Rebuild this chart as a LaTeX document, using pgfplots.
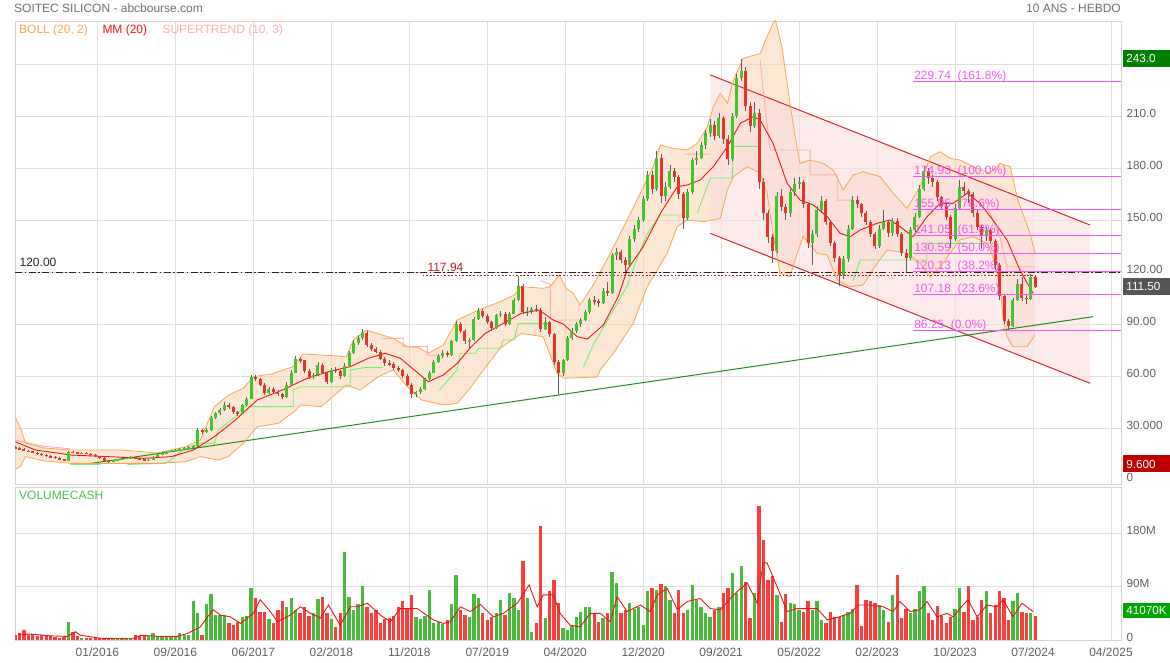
\documentclass[border=0pt]{standalone}
\usepackage{pgfplots}
\pgfplotsset{compat=1.18}
\usepackage{pgfplotstable}
\usepgfplotslibrary{fillbetween}
\usepackage{fontspec}
\setmainfont{Liberation Sans}
\definecolor{gridc}{RGB}{222,222,222}
\definecolor{framec}{RGB}{212,212,212}
\definecolor{labc}{RGB}{95,95,95}
\definecolor{titc}{RGB}{110,110,110}
\definecolor{bollc}{RGB}{246,166,78}
\definecolor{bollf}{RGB}{250,212,176}
\definecolor{mmc}{RGB}{240,20,20}
\definecolor{stg}{RGB}{110,240,110}
\definecolor{stp}{RGB}{255,172,172}
\definecolor{chanl}{RGB}{212,40,40}
\definecolor{chanf}{RGB}{251,222,222}
\definecolor{trendc}{RGB}{30,140,30}
\definecolor{fibc}{RGB}{243,85,243}
\definecolor{upc}{RGB}{60,200,40}
\definecolor{dnc}{RGB}{232,52,40}
\definecolor{wickc}{RGB}{95,95,95}
\definecolor{vup}{RGB}{72,186,60}
\definecolor{vdn}{RGB}{250,62,62}
\definecolor{volmc}{RGB}{235,20,20}
\definecolor{boxg}{RGB}{0,128,0}
\definecolor{boxgr}{RGB}{85,85,85}
\definecolor{boxr}{RGB}{190,0,0}
\definecolor{boxv}{RGB}{0,165,0}
\definecolor{volt}{RGB}{80,190,80}
\definecolor{refc}{RGB}{180,30,30}

% weekly index: 0 = 01/2016 ; candles every two weeks
\pgfplotstableread{
w o h l c v
-37 19.0 19.8 18.0 18.5 8
-35 18.5 19.0 17.4 17.8 12
-33 17.8 18.2 16.6 17.0 17
-31 17.0 17.6 16.1 16.5 8
-29 16.5 16.9 15.4 15.8 10
-27 15.8 16.2 14.6 15.0 7
-25 15.0 15.5 14.0 14.5 9
-23 14.5 14.9 13.4 13.8 8
-21 13.8 14.2 12.8 13.2 6
-19 13.2 13.7 12.4 12.8 5
-17 12.8 13.2 11.6 12.0 4
-15 12.0 12.4 10.8 11.2 5
-13 11.2 16.8 11.0 16.3 31
-11 16.3 16.9 15.5 16.0 14
-9 16.0 16.4 15.1 15.6 6
-7 15.6 16.3 15.2 15.8 4
-5 15.8 16.1 14.8 15.2 3
-3 15.2 15.6 14.2 14.6 3
-1 14.6 14.9 13.4 13.8 3
1 13.8 14.1 12.4 12.8 3
3 12.8 13.1 10.6 11.0 3
5 11.0 11.4 9.6 10.8 3
7 10.8 11.8 10.5 11.4 2
9 11.4 12.4 11.1 12.0 3
11 12.0 12.8 11.7 12.4 2
13 12.4 13.2 12.1 12.8 3
15 12.8 13.6 12.5 13.0 4
17 13.0 13.4 12.1 12.5 8
19 12.5 12.9 11.6 12.0 7
21 12.0 12.3 10.9 11.3 8
23 11.3 12.0 11.0 11.6 6
25 11.6 14.0 11.4 13.5 11
27 13.5 15.2 13.2 14.8 6
29 14.8 15.9 14.5 15.4 5
31 15.4 16.6 15.1 16.2 5
33 16.2 17.3 15.9 16.8 5
35 16.8 18.0 16.5 17.5 7
37 17.5 18.3 17.1 17.7 11
39 17.7 19.0 17.4 18.5 9
41 18.5 19.5 18.1 19.0 8
43 19.0 20.2 18.6 19.5 65
45 19.5 30.0 19.2 28.8 45
47 28.8 29.6 26.5 27.5 8
49 27.5 30.0 27.0 29.0 60
51 29.0 37.0 28.5 36.0 77
53 36.0 39.5 35.0 38.5 42
55 38.5 41.5 37.5 40.4 42
57 40.4 45.0 39.8 43.5 42
59 43.5 44.5 41.0 42.0 28
61 42.0 42.8 38.0 39.0 25
63 39.0 40.0 37.0 38.2 30
65 38.2 44.0 37.8 43.0 38
67 43.0 48.0 42.5 47.0 40
69 47.0 60.5 46.5 59.6 87
71 59.6 60.5 57.0 58.0 70
73 58.0 59.0 54.0 55.0 48
75 55.0 56.0 49.0 50.0 48
77 50.0 53.5 49.5 52.5 35
79 52.5 53.5 50.0 51.0 28
81 51.0 52.0 48.5 49.5 50
83 49.5 50.0 46.5 48.0 66
85 48.0 56.5 47.5 55.0 55
87 55.0 63.5 54.5 62.0 70
89 62.0 71.5 61.5 70.0 50
91 70.0 71.0 67.5 69.0 45
93 69.0 69.5 62.0 63.0 56
95 63.0 64.0 58.5 59.6 40
97 59.6 61.5 58.5 60.5 45
99 60.5 68.0 60.0 66.5 69
101 66.5 67.5 61.0 62.0 73
103 62.0 62.5 55.5 56.5 45
105 56.5 64.5 56.0 63.5 35
107 63.5 65.0 62.0 63.0 22
109 63.0 63.5 58.5 60.0 45
111 60.0 67.5 59.5 66.0 149
113 66.0 74.5 65.5 73.0 73
115 73.0 80.5 72.5 79.0 51
117 79.0 83.5 78.0 82.0 60
119 82.0 87.0 81.0 85.0 91
121 85.0 86.0 77.0 78.0 56
123 78.0 79.0 74.5 75.5 45
125 75.5 77.0 73.0 74.0 50
127 74.0 75.0 69.0 70.0 28
129 70.0 71.0 66.0 67.3 35
131 67.3 69.5 65.5 66.8 37
133 66.8 68.0 63.5 64.5 40
135 64.5 66.0 62.5 63.5 55
137 63.5 64.0 59.0 60.0 65
139 60.0 61.0 54.0 55.0 53
141 55.0 56.0 47.5 49.5 76
143 49.5 51.5 48.0 50.5 39
145 50.5 53.5 49.5 52.5 35
147 52.5 59.0 52.0 58.0 40
149 58.0 63.0 57.5 62.0 84
151 62.0 69.5 61.5 68.3 28
153 68.3 72.5 67.5 71.5 30
155 71.5 75.0 70.5 73.5 27
157 73.5 74.5 71.0 72.0 34
159 72.0 81.0 71.5 80.0 60
161 80.0 91.5 79.5 90.0 109
163 90.0 91.0 85.0 86.0 51
165 86.0 87.0 78.5 80.0 42
167 80.0 82.0 76.0 80.5 39
169 80.5 94.0 80.0 93.0 78
171 93.0 99.0 92.5 97.5 70
173 97.5 98.5 93.5 94.5 45
175 94.5 95.5 90.0 91.0 34
177 91.0 92.0 86.0 87.5 39
179 87.5 96.0 87.0 95.0 45
181 95.0 97.5 94.0 96.0 68
183 96.0 97.0 89.0 90.0 42
185 90.0 97.0 89.5 96.0 79
187 96.0 105.0 95.5 104.0 70
189 104.0 117.9 103.5 112.0 51
191 112.0 113.0 96.0 97.0 134
193 97.0 100.0 94.5 97.5 70
195 97.5 100.0 96.0 98.5 14
197 98.5 101.0 97.0 98.0 28
199 98.0 99.0 85.5 87.0 193
201 87.0 94.0 86.5 91.0 37
203 91.0 92.0 82.5 84.0 82
205 84.0 85.0 66.5 68.0 101
207 68.0 69.0 49.5 62.0 62
209 62.0 70.0 60.0 69.0 20
211 69.0 83.0 68.5 82.0 17
213 82.0 87.5 81.0 86.0 23
215 86.0 91.0 85.0 90.0 39
217 90.0 93.5 88.5 92.5 48
219 92.5 98.0 91.5 97.0 56
221 97.0 105.0 96.0 104.0 56
223 104.0 106.0 101.0 103.0 45
225 103.0 104.5 100.0 102.0 31
227 102.0 110.5 101.5 109.0 37
229 109.0 114.0 106.0 108.0 45
231 108.0 131.0 107.5 130.0 115
233 130.0 134.0 127.0 131.5 96
235 131.5 132.5 125.0 127.0 45
237 127.0 128.5 120.0 124.0 51
239 124.0 140.5 123.0 139.0 63
241 139.0 147.0 137.5 145.0 53
243 145.0 152.0 143.0 150.0 56
245 150.0 164.0 149.0 162.0 25
247 162.0 178.0 161.0 176.0 82
249 176.0 178.0 165.0 168.0 87
251 168.0 190.0 167.0 186.0 84
253 186.0 188.0 160.0 164.0 94
255 164.0 172.0 161.0 169.0 91
257 169.0 182.0 168.0 178.0 68
259 178.0 180.0 172.0 175.0 45
261 175.0 176.0 162.0 165.0 84
263 165.0 166.0 145.0 151.0 45
265 151.0 168.0 150.0 166.0 51
267 166.0 186.0 165.0 184.6 93
269 184.6 190.0 182.0 186.0 68
271 186.0 195.0 185.0 193.0 56
273 193.0 202.0 191.0 200.0 45
275 200.0 208.0 198.0 205.0 39
277 205.0 207.0 196.0 198.5 50
279 198.5 212.0 197.5 209.0 56
281 209.0 210.0 194.0 197.0 79
283 197.0 199.0 182.0 185.0 87
285 185.0 212.0 184.0 210.0 113
287 210.0 234.0 209.0 232.0 79
289 232.0 243.0 230.0 236.0 124
291 236.0 238.0 213.0 216.0 98
293 216.0 218.0 201.0 204.5 37
295 204.5 218.0 203.0 212.0 79
297 212.0 214.0 168.0 172.0 226
299 172.0 174.0 150.0 153.8 169
301 153.8 156.0 137.0 140.0 101
303 140.0 142.0 125.0 132.0 108
305 132.0 166.0 131.0 164.0 76
307 164.0 168.0 155.0 157.5 31
309 157.5 159.0 150.0 154.0 78
311 154.0 168.0 152.0 166.0 62
313 166.0 174.0 164.0 171.0 60
315 171.0 175.0 168.0 172.0 51
317 172.0 173.0 157.0 159.0 48
319 159.0 160.0 134.0 137.0 65
321 137.0 144.0 124.0 142.0 50
323 142.0 158.0 140.0 156.0 65
325 156.0 164.0 154.0 161.0 34
327 161.0 162.0 147.0 149.0 28
329 149.0 150.0 135.0 137.0 48
331 137.0 138.0 126.0 128.0 39
333 128.0 129.0 112.0 118.0 39
335 118.0 129.0 116.0 127.5 42
337 127.5 147.0 126.0 145.0 48
339 145.0 164.0 144.0 161.5 53
341 161.5 164.0 157.0 159.0 93
343 159.0 160.0 152.0 154.0 23
345 154.0 155.0 147.0 149.0 68
347 149.0 150.0 140.0 142.0 65
349 142.0 143.0 133.0 135.0 62
351 135.0 147.0 134.0 145.0 59
353 145.0 156.0 144.0 149.0 50
355 149.0 150.0 140.0 142.5 31
357 142.5 151.0 141.0 149.5 76
359 149.5 151.0 140.0 142.0 109
361 142.0 143.0 129.0 131.0 37
363 131.0 133.0 120.0 128.0 53
365 128.0 146.0 127.0 144.0 45
367 144.0 154.0 143.0 152.0 53
369 152.0 170.0 151.0 168.0 82
371 168.0 181.0 167.0 178.0 91
373 178.0 180.0 171.0 174.0 45
375 174.0 176.0 169.0 172.0 34
377 172.0 173.0 161.0 163.0 58
379 163.0 164.0 156.0 158.0 40
381 158.0 159.0 150.0 152.0 28
383 152.0 153.0 134.0 139.0 39
385 139.0 159.0 138.0 157.0 53
387 157.0 173.0 156.0 169.0 87
389 169.0 172.0 164.0 167.0 48
391 167.0 168.0 160.0 165.0 91
393 165.0 166.0 152.0 154.0 34
395 154.0 156.0 144.0 146.0 39
397 146.0 147.0 133.0 141.0 68
399 141.0 146.0 138.0 144.0 82
401 144.0 145.0 136.0 138.0 45
403 138.0 139.0 121.0 124.0 59
405 124.0 125.0 104.0 106.0 82
407 106.0 107.0 90.0 92.0 70
409 92.0 93.0 86.3 89.0 34
411 89.0 105.0 88.0 103.8 65
413 103.8 116.0 103.0 113.0 79
415 113.0 117.0 103.5 105.0 48
417 105.0 107.0 101.5 104.5 46
419 104.5 119.0 104.0 117.0 45
421 117.0 118.0 110.5 111.5 41
}\candles

\pgfplotstableread{
w u
-36.8 36
-34.5 30
-32.3 21.3
-24 18.5
-11.7 17.3
10.8 17.3
26.9 15.6
39.5 19.2
46.2 23
52.5 42.3
58.8 49
65.5 52.9
70 59.6
78.1 61.2
87.9 65.4
92.4 72.7
100.5 72.1
111.7 71.2
114.9 80.8
120.7 86.5
132.8 81.7
139.1 76.9
144 76.5
148.5 73.1
155.3 77.9
161.5 92.3
171 98
180.8 102.9
187.1 106.7
190.3 111.5
200.1 110.6
203.3 111.5
207.3 118.3
210.4 110.6
213.6 107.7
216.7 101
222.6 112.5
230.2 130.8
237.8 150
243.7 165.4
249.5 180.8
252.7 193.3
258.5 191.3
264.8 190.4
269.3 194.2
273.8 203.8
276.5 215.4
279.6 223.1
282.8 217.3
285.5 230.8
289.9 243.3
297.5 246
300.6 255.8
304.2 266
307.3 250
310.9 217.3
313.2 198
315.4 182.7
319.9 184.6
325.8 182.7
330.3 178.8
334.8 167.3
339.2 175.9
343.7 177.9
351.3 175
357.2 165.4
363.4 156.7
369.3 169.2
373.8 186.5
378.3 189.4
382.7 185.6
387.2 184.6
393.1 180.8
400.7 177
405.2 182.7
409.7 180.8
413.2 161.5
418.6 142.5
420.9 130.8
}\bollup

\pgfplotstableread{
w l
-36.8 6
-34.5 8
-32.3 13.5
-24 11
-11.7 9.6
4.5 9.6
26.9 9.6
39.5 10.6
46.2 13.5
54.3 11.5
58.8 13.5
65.5 21.2
71.8 30.8
81.2 32.7
89.3 40.4
91.1 43.3
100.5 42.3
111.7 54.8
118 51.9
126.1 59.6
132.8 63.5
139.1 53.8
145.4 46.2
155.3 43.3
161.5 44.2
167.8 53.8
171 59.6
180.8 76
190.3 84.6
200.1 82.7
206.4 61.5
209.5 58.7
224.4 59.4
225.7 63.5
231.6 73
240.5 90.4
246.8 111.5
255.8 130.8
260.3 146.2
264.8 150
272 149
279.6 150.9
282.8 167.3
285.5 175
291.7 180.8
297.5 177
300.6 165.4
303.3 142.3
306.4 119.2
310.9 117.3
314.1 130.8
316.8 140.4
323.1 130.8
327.6 129.8
332.1 115.4
337.9 111.5
343.7 112.5
350 125
354.5 132.7
363.4 130.8
369.3 125
373.8 117.3
378.3 123
382.7 130.8
387.2 138.5
393.1 140.4
399.3 136.5
402 128.8
405.2 111.5
406.5 94.2
408.3 82.7
411 76.9
417.3 76.9
420.9 83.7
}\bolllo

\pgfplotsset{chartaxis/.style={
  scale only axis, width=1106pt,
  xmin=-37, xmax=459.5,
  xtick={0,35,...,455},
  grid=major, grid style={draw=gridc, line width=0.8pt},
  axis line style={draw=framec, line width=0.8pt},
  major tick length=0pt, tick style={draw=none},
  yticklabel pos=right,
  yticklabel style={anchor=west, xshift=5.5pt, yshift=3pt, inner sep=0pt,
    text height=8.4pt, text depth=0pt, font=\fontsize{11.7}{13}\selectfont, text=labc},
  xticklabel style={anchor=center, yshift=-12.2pt, inner sep=0pt,
    text height=8.6pt, text depth=0pt, font=\fontsize{12}{14}\selectfont, text=labc},
}}
\tikzset{
  fibl/.style={anchor=west, yshift=6.5pt, inner sep=0pt, text height=8.6pt, text depth=0pt,
    text=fibc, font=\fontsize{12}{14}\selectfont},
  pbox/.style={anchor=west, text=white, inner xsep=3.5pt, inner ysep=0pt,
    minimum height=17pt, text height=8.4pt, text depth=0pt, text width=40.5pt,
    align=left, font=\fontsize{11.7}{13}\selectfont},
  ttl/.style={inner sep=0pt, text height=8.6pt, text depth=0pt, font=\fontsize{12}{14}\selectfont},
}

\begin{document}
\begin{tikzpicture}

% ---------------- price panel ----------------
\begin{axis}[chartaxis, at={(15pt,178pt)}, anchor=south west, height=463pt,
  ymin=-2.3, ymax=264.8,
  ytick={30,60,...,240},
  yticklabels={30.000,60.00,90.00,120.00,150.00,180.00,210.0,{}},
  extra y ticks={0}, extra y tick labels={0}, extra y tick style={grid=none},
  xticklabels={{},{},{},{},{},{},{},{},{},{},{},{},{},{}},
]
% channel
\addplot[fill=chanf, fill opacity=0.6, draw=none, forget plot]
  coordinates {(275.1,233.7)(445.6,147.1)(445.6,55.8)(275.1,142.3)} -- cycle;
% bollinger fill
\addplot[draw=none, name path=bu, forget plot] table[x=w,y=u] {\bollup};
\addplot[draw=none, name path=bl, forget plot] table[x=w,y=l] {\bolllo};
\addplot[fill=bollf, fill opacity=0.55, forget plot] fill between[of=bu and bl];
% channel lines
\addplot[chanl, line width=1pt, forget plot] coordinates {(275.1,233.7)(445.6,147.1)};
\addplot[chanl, line width=1pt, forget plot] coordinates {(275.1,142.3)(445.6,55.8)};
% trend line
\addplot[trendc, line width=1pt, forget plot] coordinates {(-6.0,9.0)(446.9,94.2)};
% supertrend
\addplot[stg, line width=0.9pt, forget plot, unbounded coords=jump] coordinates {
 (-12.1,9)(1.3,9) (nan,nan)
 (13.5,9)(30.5,9.6)(32.8,11.5)(38.6,17.3)(46.2,21.3)(52.5,21.3)(54.3,28.8)(61.9,36.5)(65.5,42.3)(87.9,42.3)(87.9,51.9)(91.1,53.8)(113.5,53.8)(113.5,63.5)(119.8,64.8)(127.9,64.8) (nan,nan)
 (153.5,51.9)(161.5,63.5)(162.9,73.1)(169.6,73.1)(171,76)(180.8,76)(182.2,80.8)(187.1,80.8)(188.9,90.4)(203.3,90.4) (nan,nan)
 (218.1,65)(222.6,78)(227.1,88)(231.6,98)(237.8,112)(242.3,128)(246.8,142)(252.7,152.9)(262.6,152.9) (nan,nan)
 (269.3,154)(275.1,174.2)(285,174.2)(285.5,192.5)(297.5,192.5) (nan,nan)
 (339.2,115)(342.4,126.9)(372.4,126.9)(372.4,136.5)(398.4,136.5)
};
\addplot[stp, line width=0.9pt, forget plot, unbounded coords=jump] coordinates {
 (-36.8,23)(-24.2,19.5)(-12.1,18) (nan,nan)
 (127.9,81.7)(137.3,81.7)(137.3,77)(148.1,77)(148.1,72)(153.9,72) (nan,nan)
 (198.8,115)(203.3,113)(203.3,92.3)(218.1,92.3) (nan,nan)
 (263.5,188)(275.1,188) (nan,nan)
 (297.5,242)(299.7,215)(302,190.4)(319.9,190.4)(319.9,176)(332.1,176)(332.1,161.5)(339.2,161.5) (nan,nan)
 (399.3,158)(405.2,140)(408.3,123)(420.9,123)
};
% bollinger outlines
\addplot[bollc, line width=0.8pt, forget plot] table[x=w,y=u] {\bollup};
\addplot[bollc, line width=0.8pt, forget plot] table[x=w,y=l] {\bolllo};
% MM 20
\addplot[mmc, line width=0.9pt, forget plot] coordinates {
 (-36.8,22)(-27.8,17.3)(-11.7,14.4)(4.5,13.5)(20.6,12.5)(33.2,13.5)(43.1,17.3)(52.5,25)(61.9,34.6)
 (71.8,46.2)(83,51.9)(94.2,58.7)(103.7,62.5)(113.5,65.4)(121.6,70.2)(129.2,73.1)(136,70.2)(142.2,63.5)
 (148.5,56.7)(155.3,60.6)(161.5,67.3)(167.8,76.9)(174.1,84.6)(180.8,89.4)(190.3,96.2)(198.3,98)
 (204.6,92.3)(209.1,90)(215.4,82.7)(219.9,81.3)(227.1,89.4)(233.8,105.8)(237.8,121.2)(245,134.6)
 (252.7,153.8)(260.3,169.2)(264.8,170.2)(270.6,173.1)(276.5,180.8)(282.8,192.3)(288.6,205.8)
 (294.4,209.6)(297.5,207.7)(303.3,194.2)(309.6,171.2)(315.4,161.5)(321.3,158.7)(327.6,151.9)
 (333.4,142.3)(337.9,140.4)(342.4,144.2)(350,148.1)(355.8,150)(360.3,146.2)(366.1,140.4)
 (372.4,151.9)(378.3,159.6)(384.1,159.6)(390.4,165.4)(396.2,159.6)(402,150)(408.3,138.5)
 (414.1,121.2)(420,107.7)
};
% reference lines
\addplot[black!85, line width=0.9pt, dash pattern=on 7pt off 2.5pt on 1.5pt off 2.5pt, forget plot]
  coordinates {(-37,120)(459.5,120)};
\addplot[refc, line width=0.9pt, dash pattern=on 1.8pt off 1.8pt, forget plot]
  coordinates {(146,117.94)(421,117.94)};
% candles: wicks
\addplot[draw=none, forget plot, error bars/.cd, y dir=both, y explicit, error mark=none,
  error bar style={draw=wickc, line width=0.7pt}]
  table[x=w, y expr={0.5*(\thisrow{h}+\thisrow{l})}, y error expr={0.5*(\thisrow{h}-\thisrow{l})}] {\candles};
% candles: bodies up
\addplot[draw=none, forget plot, restrict expr to domain={\thisrow{c}-\thisrow{o}}{0:1000},
  error bars/.cd, y dir=both, y explicit, error mark=none,
  error bar style={draw=upc, line width=3pt}]
  table[x=w, y expr={0.5*(\thisrow{o}+\thisrow{c})}, y error expr={0.5*abs(\thisrow{c}-\thisrow{o})}] {\candles};
% candles: bodies down
\addplot[draw=none, forget plot, restrict expr to domain={\thisrow{c}-\thisrow{o}}{-1000:-0.0001},
  error bars/.cd, y dir=both, y explicit, error mark=none,
  error bar style={draw=dnc, line width=3pt}]
  table[x=w, y expr={0.5*(\thisrow{o}+\thisrow{c})}, y error expr={0.5*abs(\thisrow{c}-\thisrow{o})}] {\candles};
% fibonacci levels
\addplot[fibc, line width=1pt, forget plot] coordinates {(366.1,229.74)(459.5,229.74)};
\addplot[fibc, line width=1pt, forget plot] coordinates {(366.1,174.93)(459.5,174.93)};
\addplot[fibc, line width=1pt, forget plot] coordinates {(366.1,155.95)(459.5,155.95)};
\addplot[fibc, line width=1pt, forget plot] coordinates {(366.1,141.05)(459.5,141.05)};
\addplot[fibc, line width=1pt, forget plot] coordinates {(366.1,130.59)(459.5,130.59)};
\addplot[fibc, line width=1pt, forget plot] coordinates {(366.1,120.13)(459.5,120.13)};
\addplot[fibc, line width=1pt, forget plot] coordinates {(366.1,107.18)(459.5,107.18)};
\addplot[fibc, line width=1pt, forget plot] coordinates {(366.1,86.25)(459.5,86.25)};
\node[fibl] at (axis cs:366.6,229.74) {229.74\ \ (161.8\%)};
\node[fibl] at (axis cs:366.6,174.93) {174.93\ \ (100.0\%)};
\node[fibl] at (axis cs:366.6,155.95) {155.95\ \ (78.6\%)};
\node[fibl] at (axis cs:366.6,141.05) {141.05\ \ (61.8\%)};
\node[fibl] at (axis cs:366.6,130.59) {130.59\ \ (50.0\%)};
\node[fibl] at (axis cs:366.6,120.13) {120.13\ \ (38.2\%)};
\node[fibl] at (axis cs:366.6,107.18) {107.18\ \ (23.6\%)};
\node[fibl] at (axis cs:366.6,86.25) {86.25\ \ (0.0\%)};
% labels
\node[ttl, anchor=west, text=black!85] at (axis cs:-35,125.5) {120.00};
\node[ttl, anchor=west, text=refc] at (axis cs:148.1,122.5) {117.94};
\coordinate (b243) at (axis cs:459.5,243);
\coordinate (b111) at (axis cs:459.5,111.5);
\coordinate (b96) at (axis cs:459.5,9.3);
\end{axis}

% ---------------- volume panel ----------------
\begin{axis}[chartaxis, at={(15pt,22pt)}, anchor=south west, height=153pt,
  ymin=0, ymax=258,
  ytick={90,180}, yticklabels={90M,180M},
  extra y ticks={0}, extra y tick labels={0}, extra y tick style={grid=none},
  xticklabels={01/2016,09/2016,06/2017,02/2018,11/2018,07/2019,04/2020,12/2020,09/2021,05/2022,02/2023,10/2023,07/2024,04/2025},
]
\addplot[ycomb, draw=vup, line width=3.3pt, forget plot,
  restrict expr to domain={\thisrow{c}-\thisrow{o}}{0:1000}] table[x=w, y=v] {\candles};
\addplot[ycomb, draw=vdn, line width=3.3pt, forget plot,
  restrict expr to domain={\thisrow{c}-\thisrow{o}}{-1000:-0.0001}] table[x=w, y=v] {\candles};
\addplot[volmc, line width=0.9pt, forget plot] coordinates {
 (-35.6,8.4)(-30.1,10)(-21.1,7)(-13.5,6)(-9.9,14)(-7.6,8)(1.3,3)(16.2,2)(19.3,8)(28.3,6)(35.9,6)
 (40.4,11)(46.2,22)(49.4,39)(52,51)(55.2,42)(59.7,39)(64.2,28)(70,45)(73.1,68)(77.6,48)(80.8,31)
 (86.6,42)(91.1,56)(95.6,45)(100.1,37)(103.7,59)(109,25)(113.5,56)(116.7,56)(121.2,62)(127,42)
 (131.5,31)(136,53)(143.6,53)(150.8,34)(155.3,28)(158.4,31)(162.9,56)(167.4,48)(171.9,60)
 (177.7,39)(182.2,45)(188.5,62)(193.8,93)(197.4,56)(200.1,76)(204.6,76)(207.7,45)(212.2,25)
 (216.7,22)(221.2,45)(225.7,45)(230.2,31)(233.3,73)(237.8,48)(243.7,59)(248.2,48)(251.3,76)
 (255.8,87)(260.3,51)(264.8,65)(270.6,70)(275.1,53)(279.6,51)(284.1,70)(287.3,82)(291.7,96)
 (296.2,62)(298.8,130)(300.6,130)(305.1,90)(309.6,48)(314.1,53)(323.1,53)(327.6,34)(332.1,38)
 (337.9,45)(341.5,59)(346.9,59)(352.7,56)(357.2,48)(360.3,65)(364.8,48)(369.3,51)(372.4,65)
 (376.9,39)(381.4,45)(384.1,39)(388.6,59)(390.8,68)(394.9,39)(399.3,59)(403.8,56)(406.5,68)
 (411,39)(415,62)(420,48)
};
\coordinate (bvol) at (axis cs:459.5,50.5);
\end{axis}

% ---------------- price boxes ----------------
\node[pbox, fill=boxg] at ([xshift=1.7pt]b243) {243.0};
\node[pbox, fill=boxgr] at ([xshift=1.7pt]b111) {111.50};
\node[pbox, fill=boxr] at ([xshift=1.7pt]b96) {9.600};
\node[pbox, fill=boxv, minimum height=15pt] at ([xshift=1.7pt]bvol) {41070K};

% ---------------- titles ----------------
\node[ttl, anchor=west, text=titc] at (14pt,653.8pt) {SOITEC SILICON - abcbourse.com};
\node[ttl, anchor=east, text=titc] at (1121pt,653.8pt) {10 ANS - HEBDO};
\node[ttl, anchor=west, text=bollc] at (19pt,633.2pt) {BOLL (20, 2)};
\node[ttl, anchor=west, text=mmc] at (102.3pt,633.2pt) {MM (20)};
\node[ttl, anchor=west, text=stp] at (162.3pt,633.2pt) {SUPERTREND (10, 3)};
\node[ttl, anchor=west, text=volt] at (19pt,167.3pt) {VOLUMECASH};

\pgfresetboundingbox
\path[use as bounding box] (0,0) rectangle (1170pt,662pt);
\end{tikzpicture}
\end{document}
